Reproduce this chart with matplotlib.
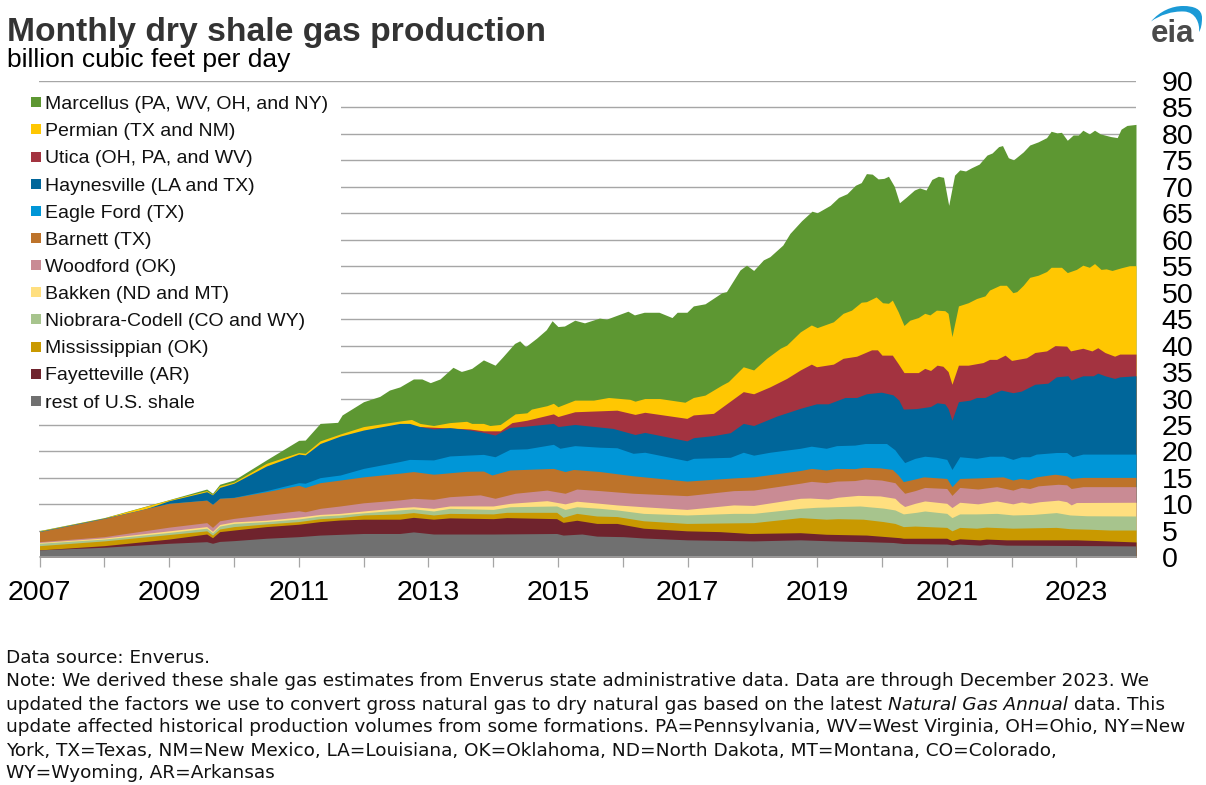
import matplotlib
matplotlib.use('Agg')
import matplotlib.pyplot as plt
from matplotlib.lines import Line2D
from matplotlib.patches import PathPatch, Rectangle
from matplotlib.path import Path

W, H = 1206, 785
plt.rcParams['font.family'] = ['Liberation Sans', 'DejaVu Sans']

# upper edge of each stacked layer (decimal year, Bcf/d)
rest_dates = [2007, 2008, 2009, 2009.58, 2009.67, 2009.78, 2010, 2010.5, 2011, 2011.33, 2012, 2012.56, 2012.77, 2013.08, 2014, 2014.98, 2015.08, 2015.37, 2015.6, 2016.01, 2016.32, 2016.99, 2018.02, 2018.74, 2019.25, 2019.76, 2020.17, 2020.33, 2021, 2021.08, 2021.2, 2021.51, 2021.66, 2021.92, 2023.36, 2023.92]
rest_top = [1.4, 1.9, 2.65, 2.95, 2.65, 3.0, 3.15, 3.6, 3.9, 4.2, 4.5, 4.5, 4.8, 4.4, 4.4, 4.5, 4.2, 4.4, 4.0, 3.9, 3.65, 3.3, 3.1, 3.3, 3.1, 2.95, 2.8, 2.6, 2.5, 2.35, 2.5, 2.3, 2.5, 2.3, 2.2, 2.15]

fayetteville_dates = [2007, 2008, 2009, 2009.58, 2009.67, 2009.78, 2010, 2010.5, 2011, 2011.33, 2011.64, 2012, 2012.56, 2012.77, 2013.08, 2013.33, 2014, 2014.21, 2014.98, 2015.08, 2015.29, 2015.6, 2015.91, 2016.32, 2016.99, 2017.5, 2017.96, 2018.74, 2018.94, 2019.14, 2019.76, 2020.28, 2020.33, 2021, 2021.08, 2021.2, 2021.51, 2021.61, 2021.92, 2023, 2023.36, 2023.92]
fayetteville_top = [1.4, 2.2, 3.45, 4.4, 3.7, 4.85, 5.15, 5.8, 6.25, 6.75, 7.05, 7.2, 7.2, 7.55, 7.2, 7.45, 7.3, 7.5, 7.3, 6.6, 7.0, 6.4, 6.4, 5.5, 5.0, 4.85, 4.5, 4.65, 4.5, 4.35, 4.2, 3.7, 3.6, 3.6, 3.15, 3.5, 3.3, 3.45, 3.3, 3.3, 3.15, 2.9]

mississippian_dates = [2007, 2008, 2009, 2009.58, 2009.67, 2009.78, 2010, 2010.5, 2011, 2011.33, 2011.64, 2012, 2012.56, 2012.77, 2013.08, 2013.33, 2014, 2014.21, 2014.98, 2015.08, 2015.29, 2015.6, 2015.91, 2016.32, 2016.99, 2018.02, 2018.74, 2019.14, 2019.32, 2019.71, 2020.02, 2020.2, 2020.33, 2020.51, 2021, 2021.08, 2021.2, 2021.46, 2021.61, 2022.02, 2022.69, 2022.9, 2023.21, 2023.52, 2023.92]
mississippian_top = [2.2, 3.1, 4.3, 5.0, 4.2, 5.35, 5.8, 6.3, 6.75, 7.3, 7.5, 8.0, 8.2, 8.45, 8.0, 8.3, 8.2, 8.5, 8.5, 7.55, 8.3, 7.8, 7.7, 6.9, 6.4, 6.55, 7.5, 7.2, 7.3, 7.2, 6.75, 6.4, 5.8, 5.9, 5.65, 5.0, 5.65, 5.5, 5.7, 5.5, 5.65, 5.4, 5.3, 5.15, 5.15]

niobrara_dates = [2007, 2008, 2009, 2009.58, 2009.67, 2009.78, 2010, 2010.5, 2011, 2011.33, 2011.64, 2012, 2012.56, 2012.77, 2013.08, 2013.33, 2014, 2014.26, 2014.98, 2015.11, 2015.29, 2015.65, 2015.91, 2016.32, 2016.99, 2017.71, 2018.02, 2018.74, 2018.99, 2019.25, 2019.66, 2020.02, 2020.2, 2020.33, 2020.53, 2020.66, 2021, 2021.08, 2021.2, 2021.46, 2021.77, 2022.02, 2022.33, 2022.69, 2022.9, 2023.16, 2023.92]
niobrara_top = [2.65, 3.45, 4.7, 5.5, 4.65, 5.9, 6.4, 6.75, 7.25, 7.8, 8.0, 8.4, 8.95, 9.15, 8.75, 9.25, 9.05, 9.55, 9.7, 9.05, 9.55, 9.25, 8.95, 8.3, 8.0, 8.3, 8.3, 9.25, 9.45, 9.55, 9.7, 9.3, 8.95, 8.2, 8.5, 8.75, 8.3, 7.5, 8.2, 8.2, 8.3, 8.0, 8.1, 8.45, 8.0, 7.85, 7.8]

bakken_dates = [2007, 2008, 2009, 2009.58, 2009.67, 2009.78, 2010, 2010.5, 2011, 2011.33, 2011.64, 2012, 2012.56, 2012.77, 2013.08, 2013.33, 2014, 2014.26, 2014.83, 2015.11, 2015.29, 2015.65, 2015.91, 2016.32, 2016.99, 2017.71, 2018.02, 2018.74, 2018.89, 2019.17, 2019.32, 2019.63, 2019.97, 2020.2, 2020.28, 2020.35, 2020.51, 2020.66, 2021, 2021.08, 2021.2, 2021.48, 2021.77, 2022.02, 2022.15, 2022.28, 2022.43, 2022.72, 2022.85, 2022.92, 2023, 2023.92]
bakken_top = [2.8, 3.65, 5.0, 5.8, 4.9, 6.2, 6.7, 7.0, 7.6, 8.1, 8.3, 8.75, 9.4, 9.55, 9.25, 9.7, 9.7, 10.2, 10.7, 10.1, 10.6, 10.2, 9.9, 9.55, 9.05, 9.9, 9.8, 11.15, 11.2, 11.0, 11.35, 11.7, 11.6, 11.15, 10.2, 9.6, 10.2, 10.65, 10.2, 9.4, 10.4, 10.1, 10.65, 10.1, 10.45, 10.2, 10.5, 10.8, 10.5, 9.9, 10.35, 10.4]

woodford_dates = [2007, 2008, 2009, 2009.58, 2009.67, 2009.78, 2010, 2010.5, 2011, 2011.1, 2011.33, 2011.64, 2012, 2012.56, 2012.77, 2013.08, 2013.33, 2013.8, 2014.03, 2014.34, 2014.83, 2015.11, 2015.29, 2015.65, 2016.16, 2016.99, 2017.71, 2018.02, 2018.74, 2018.91, 2019.14, 2019.3, 2019.58, 2019.74, 2019.99, 2020.2, 2020.28, 2020.35, 2020.51, 2020.66, 2021, 2021.08, 2021.2, 2021.48, 2021.77, 2022.02, 2022.15, 2022.28, 2022.41, 2022.72, 2022.85, 2022.92, 2023.1, 2023.92]
woodford_top = [2.95, 3.9, 5.7, 6.55, 5.65, 6.9, 7.35, 8.1, 8.8, 8.6, 9.25, 9.7, 10.3, 10.85, 11.15, 10.95, 11.45, 11.8, 11.15, 12.1, 12.7, 12.1, 12.9, 12.6, 12.1, 11.65, 12.6, 12.7, 14.0, 14.35, 14.1, 14.4, 14.5, 14.8, 14.6, 14.1, 13.0, 12.1, 12.6, 13.2, 13.0, 11.7, 13.2, 12.9, 13.35, 12.7, 13.2, 13.0, 13.5, 13.8, 13.7, 13.0, 13.35, 13.35]

barnett_dates = [2007, 2008, 2009, 2009.58, 2009.67, 2009.78, 2010, 2010.5, 2011, 2011.1, 2011.33, 2011.64, 2012, 2012.56, 2012.77, 2013.08, 2013.59, 2013.85, 2013.98, 2014.26, 2014.93, 2015.11, 2015.24, 2015.65, 2016.16, 2016.99, 2017.71, 2018.02, 2018.74, 2018.91, 2019.14, 2019.3, 2019.58, 2019.71, 2019.97, 2020.16, 2020.25, 2020.33, 2020.51, 2020.64, 2021, 2021.08, 2021.2, 2021.46, 2021.87, 2022.02, 2022.13, 2022.26, 2022.38, 2022.67, 2022.85, 2022.92, 2023.1, 2023.92]
barnett_top = [4.85, 7.35, 10.2, 10.8, 10.0, 11.15, 11.3, 12.4, 13.6, 13.2, 14.1, 14.6, 15.2, 15.9, 16.2, 15.7, 16.25, 16.3, 15.55, 16.5, 16.8, 16.2, 16.6, 16.2, 15.4, 14.4, 15.0, 15.2, 16.4, 16.8, 16.5, 16.8, 16.75, 17.0, 16.9, 16.6, 15.55, 14.3, 14.8, 15.2, 14.9, 13.35, 14.9, 15.0, 15.2, 14.6, 14.9, 14.7, 15.2, 15.7, 15.4, 14.9, 15.1, 15.1]

eagle_ford_dates = [2007, 2008, 2009, 2009.58, 2009.67, 2009.78, 2010, 2010.5, 2011, 2011.1, 2011.33, 2011.64, 2012, 2012.56, 2012.71, 2013.08, 2013.33, 2013.85, 2014.03, 2014.26, 2014.52, 2014.93, 2015.03, 2015.26, 2015.65, 2015.91, 2016.16, 2016.34, 2016.99, 2017.09, 2017.66, 2017.86, 2018.02, 2018.27, 2018.74, 2018.91, 2019.14, 2019.3, 2019.58, 2019.74, 2020.07, 2020.2, 2020.26, 2020.35, 2020.51, 2020.66, 2020.84, 2021, 2021.08, 2021.2, 2021.46, 2021.66, 2021.87, 2022.02, 2022.15, 2022.28, 2022.38, 2022.69, 2022.85, 2022.94, 2023.1, 2023.92]
eagle_ford_top = [4.87, 7.36, 10.22, 10.82, 10.02, 11.17, 11.35, 12.6, 14.1, 14.0, 15.05, 15.55, 16.8, 18.1, 18.5, 18.4, 19.15, 19.45, 19.0, 20.4, 20.5, 21.35, 20.6, 21.1, 20.8, 20.7, 19.65, 19.85, 18.25, 18.7, 18.9, 19.85, 19.3, 19.85, 20.6, 21.0, 20.6, 21.1, 21.2, 21.5, 21.5, 20.3, 19.3, 17.9, 18.7, 19.1, 18.9, 18.5, 16.6, 19.0, 18.7, 19.1, 19.1, 18.5, 19.0, 19.0, 19.5, 19.8, 19.8, 19.0, 19.5, 19.5]

haynesville_dates = [2007, 2008, 2008.6, 2009, 2009.58, 2009.67, 2009.78, 2010, 2010.5, 2011, 2011.1, 2011.33, 2011.64, 2012, 2012.56, 2012.71, 2012.87, 2013.08, 2013.33, 2013.64, 2013.85, 2014.03, 2014.26, 2014.52, 2014.93, 2015, 2015.26, 2015.85, 2016.19, 2016.34, 2016.99, 2017.09, 2017.4, 2017.66, 2017.86, 2018.02, 2018.38, 2018.74, 2018.99, 2019.17, 2019.43, 2019.61, 2019.76, 2019.99, 2020.17, 2020.26, 2020.33, 2020.53, 2020.75, 2020.85, 2020.97, 2021.02, 2021.08, 2021.18, 2021.36, 2021.46, 2021.59, 2021.72, 2021.84, 2022.02, 2022.15, 2022.36, 2022.56, 2022.69, 2022.87, 2022.92, 2023.1, 2023.26, 2023.33, 2023.44, 2023.59, 2023.67, 2023.92]
haynesville_top = [4.9, 7.4, 9.0, 10.7, 12.4, 11.8, 13.2, 14.0, 17.25, 19.5, 19.35, 21.5, 22.9, 24.05, 25.3, 25.3, 24.7, 24.25, 24.5, 24.05, 23.6, 23.1, 24.55, 24.8, 25.3, 24.7, 25.1, 24.35, 23.2, 23.6, 22.0, 22.6, 23.0, 23.55, 25.3, 24.9, 26.7, 28.15, 29.0, 29.0, 30.2, 30.2, 30.9, 31.2, 30.7, 29.7, 28.0, 28.1, 28.5, 29.2, 29.0, 28.1, 25.9, 29.4, 29.7, 30.2, 30.2, 31.0, 31.6, 31.1, 31.4, 32.7, 32.9, 34.1, 34.3, 33.5, 34.3, 34.3, 34.8, 34.3, 33.8, 34.1, 34.3]

utica_dates = [2012.87, 2013.64, 2013.85, 2014.11, 2014.29, 2014.52, 2014.93, 2015, 2015.26, 2015.91, 2016.19, 2016.34, 2016.99, 2017.09, 2017.4, 2017.86, 2018.02, 2018.27, 2018.53, 2018.74, 2018.91, 2018.99, 2019.25, 2019.4, 2019.61, 2019.84, 2019.93, 2020.0, 2020.16, 2020.25, 2020.34, 2020.56, 2020.66, 2020.75, 2020.85, 2020.94, 2021.02, 2021.08, 2021.18, 2021.33, 2021.56, 2021.66, 2021.77, 2021.9, 2022.0, 2022.23, 2022.36, 2022.54, 2022.67, 2022.85, 2022.91, 2023.1, 2023.24, 2023.33, 2023.44, 2023.59, 2023.67, 2023.92]
utica_top = [24.7, 24.25, 23.9, 23.9, 25.45, 25.9, 27.1, 26.6, 27.5, 27.8, 27.0, 27.4, 26.25, 26.9, 27.2, 31.3, 30.9, 32.2, 33.8, 35.4, 36.5, 36.0, 36.5, 37.6, 38.0, 39.2, 39.2, 38.2, 38.2, 36.6, 34.9, 34.9, 35.7, 35.3, 36.3, 36.1, 35.1, 32.7, 36.3, 36.3, 36.8, 37.4, 37.4, 38.2, 37.2, 37.7, 38.7, 39.0, 40.0, 39.9, 39.0, 39.5, 39.0, 39.6, 38.7, 38.0, 38.4, 38.4]

permian_dates = [2007, 2008, 2009, 2009.58, 2009.67, 2009.78, 2010, 2010.5, 2011, 2011.1, 2011.33, 2011.64, 2012, 2012.56, 2012.74, 2012.87, 2013.08, 2013.33, 2013.59, 2013.67, 2013.85, 2013.95, 2014.11, 2014.34, 2014.52, 2014.59, 2014.83, 2014.93, 2015, 2015.26, 2015.55, 2015.78, 2016.11, 2016.19, 2016.34, 2016.57, 2016.96, 2017.09, 2017.27, 2017.53, 2017.63, 2017.86, 2018.02, 2018.22, 2018.43, 2018.53, 2018.74, 2018.91, 2019.0, 2019.25, 2019.4, 2019.53, 2019.68, 2019.76, 2019.91, 2020.01, 2020.1, 2020.16, 2020.25, 2020.34, 2020.43, 2020.56, 2020.66, 2020.74, 2020.84, 2020.97, 2021.02, 2021.08, 2021.18, 2021.33, 2021.46, 2021.59, 2021.66, 2021.82, 2021.92, 2022.02, 2022.08, 2022.18, 2022.28, 2022.41, 2022.54, 2022.61, 2022.77, 2022.86, 2023.0, 2023.1, 2023.2, 2023.28, 2023.38, 2023.46, 2023.55, 2023.69, 2023.82, 2023.92]
permian_top = [5.0, 7.45, 10.85, 12.6, 11.9, 13.5, 14.2, 17.75, 19.8, 19.65, 22.0, 23.3, 24.7, 25.75, 26.05, 25.3, 24.9, 25.45, 25.7, 25.3, 25.3, 24.9, 25.1, 27.1, 27.3, 28.0, 28.65, 29.1, 28.45, 29.7, 29.7, 30.2, 29.85, 29.5, 30.0, 30.0, 29.3, 30.2, 30.65, 32.55, 33.2, 36.0, 35.4, 37.6, 39.5, 40.1, 42.6, 43.9, 43.4, 44.5, 46.1, 46.7, 48.2, 48.3, 49.2, 48.1, 48.0, 48.6, 46.4, 43.8, 44.8, 45.3, 46.1, 45.8, 46.7, 46.6, 46.1, 41.7, 47.5, 48.1, 48.9, 49.4, 50.5, 51.4, 51.4, 50.0, 50.2, 51.4, 52.9, 53.3, 54.0, 54.8, 54.8, 53.8, 54.4, 55.2, 54.8, 55.5, 54.4, 54.5, 54.2, 54.7, 55.1, 55.1]

marcellus_dates = [2007, 2008, 2009, 2009.58, 2009.67, 2009.78, 2010, 2010.5, 2011, 2011.1, 2011.33, 2011.6, 2011.67, 2012, 2012.25, 2012.4, 2012.56, 2012.77, 2012.9, 2013.03, 2013.18, 2013.38, 2013.51, 2013.67, 2013.85, 2014.03, 2014.15, 2014.33, 2014.41, 2014.5, 2014.67, 2014.82, 2014.91, 2015, 2015.1, 2015.26, 2015.41, 2015.64, 2015.75, 2016.08, 2016.18, 2016.33, 2016.56, 2016.76, 2016.84, 2016.99, 2017.09, 2017.27, 2017.53, 2017.6, 2017.81, 2017.91, 2018.02, 2018.17, 2018.27, 2018.47, 2018.58, 2018.76, 2018.92, 2019.0, 2019.2, 2019.33, 2019.46, 2019.59, 2019.68, 2019.76, 2019.85, 2019.94, 2020.03, 2020.1, 2020.19, 2020.27, 2020.37, 2020.5, 2020.58, 2020.68, 2020.77, 2020.87, 2020.95, 2021.03, 2021.12, 2021.2, 2021.29, 2021.38, 2021.5, 2021.62, 2021.7, 2021.8, 2021.86, 2021.95, 2022.03, 2022.18, 2022.28, 2022.41, 2022.54, 2022.61, 2022.7, 2022.77, 2022.86, 2022.95, 2023.03, 2023.1, 2023.2, 2023.28, 2023.37, 2023.53, 2023.63, 2023.69, 2023.78, 2023.92]
marcellus_top = [5.05, 7.5, 10.9, 12.9, 12.1, 13.8, 14.6, 18.4, 22.1, 22.15, 25.3, 25.5, 26.9, 29.4, 30.4, 31.6, 32.2, 33.7, 33.7, 33.0, 33.7, 35.9, 35.1, 35.7, 37.3, 36.3, 37.9, 40.4, 40.9, 39.8, 41.4, 43.0, 44.7, 43.6, 43.7, 44.8, 44.3, 45.2, 45.0, 46.5, 45.8, 46.3, 46.3, 45.3, 46.3, 46.3, 47.5, 47.9, 50.0, 50.2, 54.3, 55.2, 54.2, 56.2, 56.8, 59.0, 61.2, 63.6, 65.4, 65.1, 66.5, 68.0, 68.7, 70.3, 70.8, 72.5, 72.4, 71.5, 71.6, 72.0, 70.1, 67.0, 68.0, 69.4, 69.8, 69.4, 71.4, 72.0, 71.8, 66.5, 72.2, 73.2, 73.0, 73.6, 74.3, 76.0, 76.4, 77.6, 77.8, 75.5, 75.1, 76.6, 77.9, 78.5, 79.3, 80.5, 80.2, 80.3, 78.8, 79.8, 79.8, 80.7, 80.0, 80.7, 80.0, 79.5, 79.3, 80.9, 81.6, 81.8]

# legend rows, top to bottom
labels = ['Marcellus (PA, WV, OH, and NY)', 'Permian (TX and NM)', 'Utica (OH, PA, and WV)',
          'Haynesville (LA and TX)', 'Eagle Ford (TX)', 'Barnett (TX)', 'Woodford (OK)',
          'Bakken (ND and MT)', 'Niobrara-Codell (CO and WY)', 'Mississippian (OK)',
          'Fayetteville (AR)', 'rest of U.S. shale']
colors = ['#5d9732', '#ffc702', '#a33340', '#00669a', '#0096d7', '#bd732a',
          '#c98b94', '#ffdf7f', '#a7c48d', '#c99900', '#6f232d', '#707070']
layer_dates = [marcellus_dates, permian_dates, utica_dates, haynesville_dates, eagle_ford_dates,
               barnett_dates, woodford_dates, bakken_dates, niobrara_dates, mississippian_dates,
               fayetteville_dates, rest_dates]
layer_tops = [marcellus_top, permian_top, utica_top, haynesville_top, eagle_ford_top,
              barnett_top, woodford_top, bakken_top, niobrara_top, mississippian_top,
              fayetteville_top, rest_top]

y_ticks = list(range(0, 95, 5))
x_years = list(range(2007, 2024))

note_lines = [
    'Data source: Enverus.',
    'Note: We derived these shale gas estimates from Enverus state administrative data. Data are through December 2023. We',
    None,
    'update affected historical production volumes from some formations. PA=Pennsylvania, WV=West Virginia, OH=Ohio, NY=New',
    'York, TX=Texas, NM=New Mexico, LA=Louisiana, OK=Oklahoma, ND=North Dakota, MT=Montana, CO=Colorado,',
    'WY=Wyoming, AR=Arkansas',
]
note_y = [658, 681.5, 704.5, 727.5, 750.5, 773.5]
note_size = 13.3
note_font = ['DejaVu Sans']


def fx(x):
    return x / W


def fy(y):
    return 1 - y / H


fig = plt.figure(figsize=(W / 100, H / 100), dpi=100)
ax = fig.add_axes([fx(39.5), fy(557.3), (1136 - 39.5) / W, (557.3 - 81) / H])

# painted from the largest layer down so each one covers the part below it
for i in range(len(labels)):
    ax.fill_between(layer_dates[i], layer_tops[i], 0, color=colors[i], linewidth=0, zorder=2)

ax.set_xlim(2007, 2023.92)
ax.set_ylim(0, 90)
ax.yaxis.tick_right()
ax.set_yticks(y_ticks)
ax.set_xticks(x_years)
ax.set_xticklabels([str(y) if y % 2 == 1 else '' for y in x_years])
ax.tick_params(axis='y', length=0, pad=18.3, labelsize=20.5)
ax.tick_params(axis='x', length=7.5, width=0.9, color='#a6a6a6', pad=9, labelsize=20.5)
ax.grid(axis='y', color='#a6a6a6', linewidth=1.0, zorder=1)
ax.set_axisbelow(True)
for side in ['top', 'left', 'right']:
    ax.spines[side].set_visible(False)
ax.spines['bottom'].set_color('#a6a6a6')
ax.spines['bottom'].set_linewidth(1.1)
ax.spines['bottom'].set_zorder(3)

# white panel behind the legend hides the gridlines there
ax.add_patch(Rectangle((fx(0), fy(415)), fx(341), fy(90) - fy(415), transform=fig.transFigure,
                       facecolor='white', edgecolor='none', zorder=1.5, clip_on=False))

handles = [Line2D([], [], linestyle='none', marker='s', markersize=6.8, markeredgewidth=0,
                  color=c) for c in colors]
leg = ax.legend(handles, labels, loc='upper left', bbox_to_anchor=(fx(28.7), fy(95.5)),
                bbox_transform=fig.transFigure, frameon=False, fontsize=14, handlelength=0.7,
                handletextpad=0.14, labelspacing=0.49, borderpad=0, borderaxespad=0)
for t in leg.get_texts():
    t.set_color('#111111')

fig.text(fx(7), fy(41), 'Monthly dry shale gas production', fontsize=24.2, fontweight='bold',
         color='#333333', va='baseline', ha='left')
fig.text(fx(7), fy(66.5), 'billion cubic feet per day', fontsize=19, color='black',
         va='baseline', ha='left')

for line, y in zip(note_lines, note_y):
    if line is not None:
        fig.text(fx(6), fy(y), line, fontsize=note_size, family=note_font, color='#111111',
                 va='center', ha='left')
part = fig.text(fx(6), fy(note_y[2]),
                'updated the factors we use to convert gross natural gas to dry natural gas based on the latest ',
                fontsize=note_size, family=note_font, color='#111111', va='center', ha='left')
part = ax.annotate('Natural Gas Annual', xy=(1, 0.5), xycoords=part, va='center', ha='left',
                   fontsize=note_size, family=note_font, style='italic', color='#111111',
                   annotation_clip=False)
ax.annotate(' data. This', xy=(1, 0.5), xycoords=part, va='center', ha='left',
            fontsize=note_size, family=note_font, color='#111111', annotation_clip=False)

# eia logo
swoosh = [(1151, 21.5), (1160, 11), (1172, 6), (1183, 6), (1194, 6), (1202, 9), (1202, 18),
          (1202, 24), (1201, 29), (1199, 32), (1200, 24), (1196, 12), (1184, 11.5),
          (1172, 11), (1160, 15), (1151, 21.5)]
codes = [Path.MOVETO] + [Path.CURVE4] * 15
fig.add_artist(PathPatch(Path([(fx(x), fy(y)) for x, y in swoosh], codes), facecolor='#1b9ad6',
                         edgecolor='none', transform=fig.transFigure))
fig.text(fx(1151), fy(42), 'eia', fontsize=22.5, fontweight='bold', color='#4a4a4a', va='baseline', ha='left')

fig.savefig('out.png', dpi=100)
